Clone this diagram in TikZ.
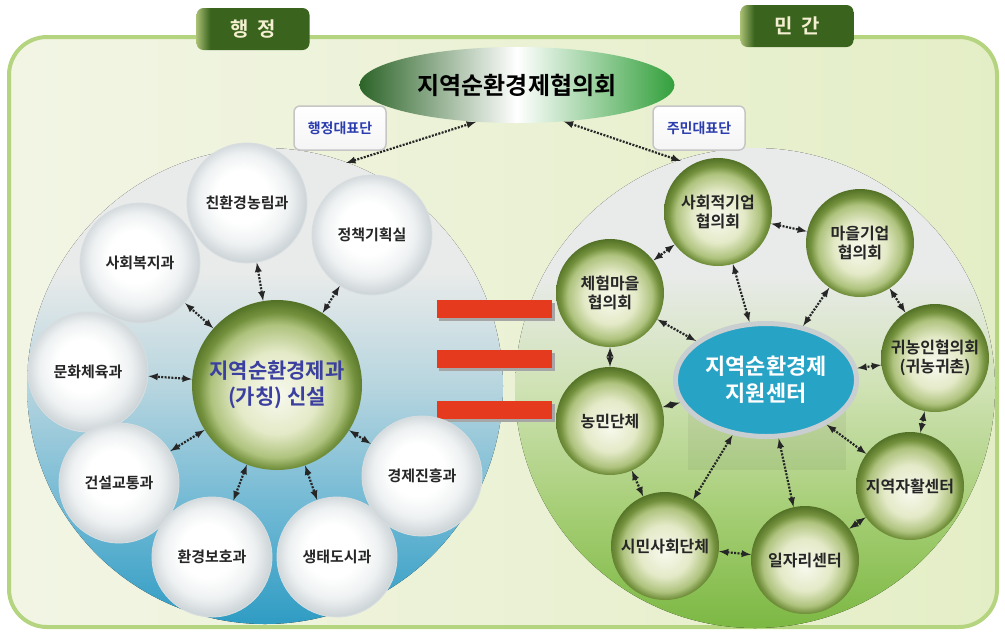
\documentclass[tikz,border=0pt]{standalone}
\usepackage{fontspec}
\setmainfont{Noto Sans CJK KR}[BoldFont={Noto Sans CJK KR Bold}]
\usetikzlibrary{shapes.geometric}

\definecolor{framegreen}{HTML}{B5D47F}
\definecolor{framelight}{HTML}{F2F5E4}
\definecolor{framedeep}{HTML}{E4EEC6}
\definecolor{tabdark}{HTML}{3A641E}
\definecolor{tabedge}{HTML}{A7BE72}
\definecolor{tabtext}{HTML}{F3EFD0}
\definecolor{councildark}{HTML}{2C6428}
\definecolor{councilright}{HTML}{33A03C}
\definecolor{repblue}{HTML}{2B3DAE}
\definecolor{bowltop}{HTML}{E9EBEA}
\definecolor{bluelow}{HTML}{6AB6D3}
\definecolor{bluemid}{HTML}{B7D5DF}
\definecolor{bluebot}{HTML}{2F9CC3}
\definecolor{greenlow}{HTML}{A2CC70}
\definecolor{greenmid}{HTML}{CFE2B4}
\definecolor{greenbot}{HTML}{7CB843}
\definecolor{barred}{HTML}{E63A1E}
\definecolor{glassmid}{HTML}{EEF1F2}
\definecolor{glassrim}{HTML}{CFD6D9}
\definecolor{glassline}{HTML}{D8DEE0}
\definecolor{gbA}{HTML}{F8F9EE}
\definecolor{gbB}{HTML}{E4EAC8}
\definecolor{gbC}{HTML}{AFC37E}
\definecolor{gbD}{HTML}{72903C}
\definecolor{gbE}{HTML}{4E6C22}
\definecolor{hubblue}{HTML}{27A3C6}
\definecolor{hubrim}{HTML}{C9CED0}
\definecolor{deptblue}{HTML}{3B3FA0}

%% shadings: the shaded path always fills the inner 50bp of the 100bp box
\pgfdeclareradialshading{glassshade}{\pgfpoint{-3bp}{4bp}}{color(0bp)=(white); color(11bp)=(white); color(19bp)=(glassmid); color(25bp)=(glassrim); color(32bp)=(glassrim)}
\pgfdeclareradialshading{greenshade}{\pgfpoint{0bp}{-3bp}}{color(0bp)=(gbA); color(12bp)=(gbB); color(19.5bp)=(gbC); color(23bp)=(gbD); color(27bp)=(gbE); color(50bp)=(gbE)}
\pgfdeclareverticalshading{bluebowl}{100bp}{color(0bp)=(bluebot); color(25bp)=(bluebot); color(36bp)=(bluelow); color(50bp)=(bluemid); color(62bp)=(bowltop); color(100bp)=(bowltop)}
\pgfdeclareverticalshading{greenbowl}{100bp}{color(0bp)=(greenbot); color(25bp)=(greenbot); color(36bp)=(greenlow); color(50bp)=(greenmid); color(62bp)=(bowltop); color(100bp)=(bowltop)}
\pgfdeclarehorizontalshading{tabshade}{100bp}{color(0bp)=(tabedge); color(25bp)=(tabedge); color(31bp)=(tabdark); color(100bp)=(tabdark)}

\begin{document}
\begin{tikzpicture}
[x=1pt,y=-1pt,
  tabbox/.style={rectangle,rounded corners=7pt,shading=tabshade,minimum width=113pt,minimum height=42pt,
    text=tabtext,font=\fontsize{20}{22}\selectfont\bfseries},
  repbox/.style={rectangle,rounded corners=6pt,draw=gray!45,line width=1.5pt,top color=white,bottom color=gray!8,
    minimum width=92pt,minimum height=44pt,text=repblue,font=\fontsize{14}{16}\selectfont\bfseries},
  glass/.style={circle,minimum size=120pt,inner sep=0pt,shading=glassshade,draw=glassline,line width=0.8pt,
    font=\fontsize{15}{17}\selectfont\bfseries,text=black!85},
  greenball/.style={circle,minimum size=108pt,inner sep=0pt,shading=greenshade,align=center,
    font=\fontsize{16}{19}\selectfont\bfseries,text=black!85},
  link/.style={<->,>=latex,line width=2.2pt,dash pattern=on 2pt off 1.4pt,black!85}]
\useasboundingbox (0,0) rectangle (1005,633);

%% frame and the two tabs
\draw [framegreen,line width=4pt,rounded corners=38pt,left color=framelight,right color=framedeep]
  (9,37) rectangle (997,627);
\node (govtab) at (253,29) [tabbox] {행\ \ 정};
\node (civtab) at (797,26) [tabbox] {민\ \ 간};

%% the two bowls
\fill [shading=bluebowl] (265,386) circle (238pt);
\fill [shading=greenbowl] (755,388) circle (240pt);
\fill [black,opacity=0.05] (688,410) rectangle (846,470);

%% equals bars
\foreach \y in {300,350,401}
{
  \fill [black!35] (439,\y+3) rectangle (555,\y+21);
  \fill [barred] (437,\y) rectangle (552,\y+18);
}

%% council and representatives
\node (council) at (517,85) [ellipse,minimum width=315pt,minimum height=76pt,
  left color=councildark,right color=councilright,middle color=white,
  font=\fontsize{24}{26}\selectfont\bfseries] {지역순환경제협의회};
\node (govrep) at (340,128) [repbox] {행정대표단};
\node (civrep) at (699,128) [repbox] {주민대표단};
\coordinate (govend) at (346,163);
\coordinate (civend) at (681,161);

%% administration side
\node (newdept) at (277,385) [circle,minimum size=170pt,inner sep=0pt,shading=greenshade,align=center,
  text=deptblue,font=\fontsize{21}{26}\selectfont\bfseries] {지역순환경제과\\(가칭) 신설};
\foreach \nodename/\x/\y/\txt in {
  welfare/140/263/사회복지과, farm/247/203/친환경농림과, policy/372/235/정책기획실,
  culture/88/372/문화체육과, transport/119/483/건설교통과, envprot/212/557/환경보호과,
  ecocity/337/557/생태도시과, economy/422/476/경제진흥과}
{
  \node (\nodename) at (\x,\y) [glass] {\txt};
  \draw [link] (newdept) -- (\nodename);
}

%% private side
\node (hub) at (766,380) [ellipse,minimum width=173pt,minimum height=113pt,fill=hubblue,
  draw=hubrim,line width=5pt,align=center,text=white,
  font=\fontsize{22}{27}\selectfont\bfseries] {지역순환경제\\지원센터};
\foreach \nodename/\x/\y/\txt in {
  socent/718/212/{사회적기업\\협의회}, village/860/243/{마을기업\\협의회},
  exper/610/293/{체험마을\\협의회}, returnee/935/358/{귀농인협의회\\(귀농귀촌)},
  farmers/610/421/농민단체, selfhelp/910/486/지역자활센터,
  civic/665/546/시민사회단체, jobs/805/560/일자리센터}
{
  \node (\nodename) at (\x,\y) [greenball] {\txt};
}
\foreach \a/\b in {socent/village, socent/exper, socent/hub, village/hub, village/returnee,
  exper/hub, exper/farmers, returnee/hub, returnee/selfhelp, farmers/hub, farmers/civic,
  hub/civic, hub/jobs, hub/selfhelp, civic/jobs, jobs/selfhelp}
  \draw [link] (\a) -- (\b);

%% links up to the council
\draw [link] (govend) -- (council.222);
\draw [link] (civend) -- (council.322);
\end{tikzpicture}
\end{document}
